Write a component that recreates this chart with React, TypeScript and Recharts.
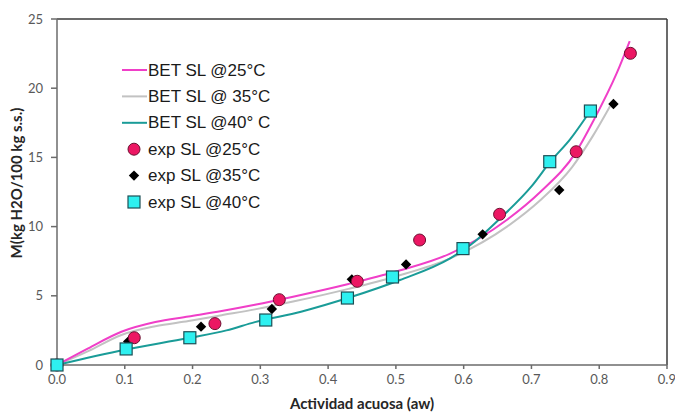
import React from 'react';
import {
  ComposedChart,
  Line,
  Scatter,
  XAxis,
  YAxis,
  ReferenceLine,
} from 'recharts';

// BET model curves (water activity aw vs. moisture M)
const bet25 = [
  { aw: 0, m: 0 },
  { aw: 0.046, m: 1.2 },
  { aw: 0.095, m: 2.4 },
  { aw: 0.145, m: 3.1 },
  { aw: 0.194, m: 3.5 },
  { aw: 0.243, m: 3.9 },
  { aw: 0.292, m: 4.35 },
  { aw: 0.35, m: 4.95 },
  { aw: 0.43, m: 5.85 },
  { aw: 0.5, m: 6.75 },
  { aw: 0.58, m: 8.05 },
  { aw: 0.664, m: 10.5 },
  { aw: 0.713, m: 12.5 },
  { aw: 0.766, m: 15.4 },
  { aw: 0.792, m: 17.7 },
  { aw: 0.826, m: 21.1 },
  { aw: 0.845, m: 23.4 },
];

const bet35 = [
  { aw: 0, m: 0 },
  { aw: 0.046, m: 1.0 },
  { aw: 0.095, m: 2.17 },
  { aw: 0.145, m: 2.8 },
  { aw: 0.194, m: 3.18 },
  { aw: 0.243, m: 3.6 },
  { aw: 0.292, m: 4.02 },
  { aw: 0.35, m: 4.6 },
  { aw: 0.43, m: 5.5 },
  { aw: 0.5, m: 6.4 },
  { aw: 0.58, m: 7.7 },
  { aw: 0.664, m: 10.0 },
  { aw: 0.713, m: 11.9 },
  { aw: 0.76, m: 14.3 },
  { aw: 0.79, m: 16.5 },
  { aw: 0.816, m: 18.7 },
];

const bet40 = [
  { aw: 0, m: 0 },
  { aw: 0.1, m: 1.1 },
  { aw: 0.194, m: 1.95 },
  { aw: 0.25, m: 2.5 },
  { aw: 0.292, m: 3.1 },
  { aw: 0.36, m: 3.85 },
  { aw: 0.4325, m: 4.89 },
  { aw: 0.506, m: 6.14 },
  { aw: 0.58, m: 7.71 },
  { aw: 0.61, m: 8.67 },
  { aw: 0.654, m: 10.6 },
  { aw: 0.7, m: 12.9 },
  { aw: 0.728, m: 14.69 },
  { aw: 0.757, m: 16.3 },
  { aw: 0.787, m: 18.37 },
];

// Experimental sorption points
const exp25 = [
  { aw: 0, m: 0 },
  { aw: 0.114, m: 1.97 },
  { aw: 0.233, m: 2.99 },
  { aw: 0.328, m: 4.72 },
  { aw: 0.443, m: 6.05 },
  { aw: 0.535, m: 9.03 },
  { aw: 0.653, m: 10.89 },
  { aw: 0.766, m: 15.41 },
  { aw: 0.846, m: 22.52 },
];

const exp35 = [
  { aw: 0.105, m: 1.69 },
  { aw: 0.2125, m: 2.77 },
  { aw: 0.317, m: 4.05 },
  { aw: 0.435, m: 6.19 },
  { aw: 0.515, m: 7.27 },
  { aw: 0.628, m: 9.44 },
  { aw: 0.741, m: 12.64 },
  { aw: 0.821, m: 18.86 },
];

const exp40 = [
  { aw: 0, m: 0 },
  { aw: 0.102, m: 1.16 },
  { aw: 0.196, m: 1.97 },
  { aw: 0.308, m: 3.25 },
  { aw: 0.4285, m: 4.84 },
  { aw: 0.495, m: 6.36 },
  { aw: 0.599, m: 8.41 },
  { aw: 0.727, m: 14.69 },
  { aw: 0.787, m: 18.35 },
];

const xTicks = [0, 0.1, 0.2, 0.3, 0.4, 0.5, 0.6, 0.7, 0.8, 0.9];
const yTicks = [0, 5, 10, 15, 20, 25];

const legendLabels = [
  'BET SL @25°C',
  'BET SL @ 35°C',
  'BET SL @40° C',
  'exp SL @25°C',
  'exp SL @35°C',
  'exp SL @40°C',
];

const C25 = '#F03FC8';
const C35 = '#C2C2C2';
const C40 = '#1A9C98';
const CIRCLE_FILL = '#EC1763';
const CIRCLE_STROKE = '#6B1030';
const SQUARE_FILL = '#2EF0F0';
const SQUARE_STROKE = '#1D4F55';

const tickFont = { fontFamily: 'Lato, sans-serif', fontSize: 13, fill: '#595959' };
const titleFont = {
  fontFamily: 'Lato, sans-serif',
  fontSize: 15,
  fontWeight: 700,
  fill: '#262626',
};

const CircleMark = (p: any) => (
  <circle cx={p.cx} cy={p.cy} r={6} fill={CIRCLE_FILL} stroke={CIRCLE_STROKE} strokeWidth={1} />
);
const DiamondMark = (p: any) => {
  const s = 5.2;
  return (
    <polygon
      points={`${p.cx},${p.cy - s} ${p.cx + s},${p.cy} ${p.cx},${p.cy + s} ${p.cx - s},${p.cy}`}
      fill="#000"
    />
  );
};
const SquareMark = (p: any) => (
  <rect
    x={p.cx - 6}
    y={p.cy - 6}
    width={12}
    height={12}
    fill={SQUARE_FILL}
    stroke={SQUARE_STROKE}
    strokeWidth={1.2}
  />
);

// Legend panel, overlaid inside the plot area's upper-left region
const LegendBox = () => {
  const rowH = 26.4;
  const lineColors = [C25, C35, C40];
  return (
    <svg width={220} height={170} style={{ display: 'block' }}>
      {legendLabels.map((label, i) => {
        const cy = 14 + i * rowH;
        let sym: React.ReactNode = null;
        if (i < 3) {
          sym = <line x1={10} x2={35} y1={cy} y2={cy} stroke={lineColors[i]} strokeWidth={2} />;
        } else if (i === 3) {
          sym = <CircleMark cx={22} cy={cy} />;
        } else if (i === 4) {
          sym = <DiamondMark cx={22} cy={cy} />;
        } else {
          sym = <SquareMark cx={22} cy={cy} />;
        }
        return (
          <g key={label}>
            {sym}
            <text
              x={36}
              y={cy}
              dominantBaseline="central"
              fontFamily="'Liberation Sans', Arial, sans-serif"
              fontSize={17}
              fill="#1a1a1a"
            >
              {label}
            </text>
          </g>
        );
      })}
    </svg>
  );
};

export default function App() {
  return (
    <div style={{ position: 'absolute', left: 0, top: 0, width: 675, height: 414, background: '#fff' }}>
      <ComposedChart width={675} height={414} margin={{ top: 19, right: 8, left: 0, bottom: 0 }}>
        <XAxis
          dataKey="aw"
          type="number"
          domain={[0, 0.9]}
          ticks={xTicks}
          tickFormatter={(v: number) => v.toFixed(1)}
          height={49}
          tick={tickFont}
          tickSize={4}
          tickMargin={6}
          stroke="#6b6b6b"
          strokeWidth={1.5}
          label={{
            content: ({ viewBox }: any) => (
              <text
                x={viewBox.x + viewBox.width / 2}
                y={viewBox.y + 38}
                textAnchor="middle"
                dominantBaseline="central"
                style={titleFont}
              >
                Actividad acuosa (aw)
              </text>
            ),
          }}
        />
        <YAxis
          type="number"
          domain={[0, 25]}
          ticks={yTicks}
          width={57}
          tick={tickFont}
          tickSize={6}
          tickMargin={8}
          stroke="#6b6b6b"
          strokeWidth={1.5}
          label={{
            content: ({ viewBox }: any) => {
              const x = viewBox.x + 16;
              const y = viewBox.y + viewBox.height / 2 - 9;
              return (
                <text
                  x={x}
                  y={y}
                  transform={`rotate(-90, ${x}, ${y})`}
                  textAnchor="middle"
                  dominantBaseline="central"
                  style={titleFont}
                >
                  M(kg H2O/100 kg s.s.)
                </text>
              );
            },
          }}
        />
        <ReferenceLine y={25} stroke="#3a3a3a" strokeWidth={1.5} />
        <ReferenceLine x={0.9} stroke="#3a3a3a" strokeWidth={1.5} />
        <Line data={bet35} dataKey="m" type="monotone" stroke={C35} strokeWidth={2} dot={false} isAnimationActive={false} />
        <Line data={bet25} dataKey="m" type="monotone" stroke={C25} strokeWidth={2} dot={false} isAnimationActive={false} />
        <Line data={bet40} dataKey="m" type="monotone" stroke={C40} strokeWidth={2} dot={false} isAnimationActive={false} />
        <Scatter data={exp35} dataKey="m" shape={DiamondMark} isAnimationActive={false} />
        <Scatter data={exp25} dataKey="m" shape={CircleMark} isAnimationActive={false} />
        <Scatter data={exp40} dataKey="m" shape={SquareMark} isAnimationActive={false} />
      </ComposedChart>
      <div style={{ position: 'absolute', left: 112, top: 56 }}>
        <LegendBox />
      </div>
    </div>
  );
}
